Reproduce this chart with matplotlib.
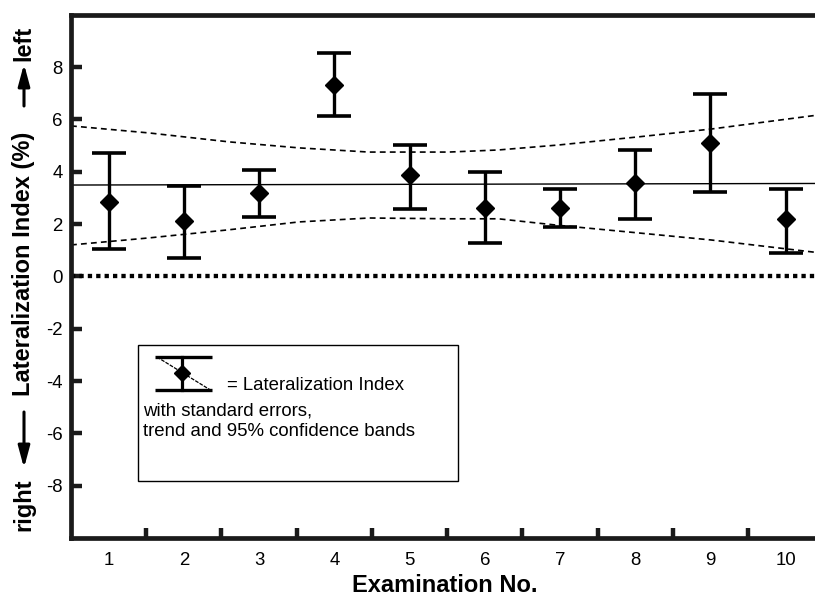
import matplotlib
matplotlib.use("Agg")
import matplotlib.pyplot as plt
from matplotlib.patches import Rectangle
import numpy as np

plt.rcParams['font.family'] = ['Liberation Sans', 'DejaVu Sans']

# ---- data ----
exams = [1, 2, 3, 4, 5, 6, 7, 8, 9, 10]
li_mean = [2.84, 2.12, 3.19, 7.31, 3.87, 2.60, 2.63, 3.57, 5.10, 2.18]
li_upper = [4.72, 3.46, 4.07, 8.53, 5.02, 4.00, 3.33, 4.83, 6.97, 3.33]
li_lower = [1.05, 0.71, 2.27, 6.13, 2.58, 1.27, 1.90, 2.20, 3.23, 0.91]

trend_x = [0.5, 10.39]
trend_y = [3.49, 3.55]

band_x = [0.5, 1.54, 2.6, 3.53, 4.46, 5.52, 6.18, 6.98, 8.04, 9.01, 10.39]
band_upper = [5.75, 5.48, 5.14, 4.91, 4.75, 4.75, 4.83, 5.02, 5.33, 5.63, 6.15]
band_lower = [1.20, 1.47, 1.78, 2.08, 2.23, 2.20, 2.20, 1.95, 1.66, 1.39, 0.92]

yticks = [-8, -6, -4, -2, 0, 2, 4, 6, 8]
xminor = [1.5, 2.5, 3.5, 4.5, 5.5, 6.5, 7.5, 8.5, 9.5]

W, H = 815, 595
fig = plt.figure(figsize=(W / 100, H / 100), dpi=100)
ax = fig.add_axes([71 / W, (H - 538) / H, 1 - 71 / W, (538 - 14.7) / H])

mean = np.array(li_mean)
yerr = [mean - np.array(li_lower), np.array(li_upper) - mean]

# zero reference (thick dotted)
ax.axhline(0, color='black', lw=3.1, linestyle=(0, (1, 0.95)),
           dash_capstyle='butt', zorder=2)
# trend
ax.plot(trend_x, trend_y, color='black', lw=1.0, zorder=2)
# confidence bands
ax.plot(band_x, band_upper, color='black', lw=1.2, linestyle=(0, (3.5, 2.5)), zorder=2)
ax.plot(band_x, band_lower, color='black', lw=1.2, linestyle=(0, (3.5, 2.5)), zorder=2)

ax.errorbar(exams, li_mean, yerr=yerr, fmt='D', color='black', ms=9,
            elinewidth=2.4, capsize=12.5, capthick=2.6, zorder=4)

ax.set_xlim(0.5, 10.39)
ax.set_ylim(-10, 10)

ax.spines['right'].set_visible(False)
for s in ['left', 'bottom', 'top']:
    ax.spines[s].set_linewidth(3.4)
    ax.spines[s].set_color('#1a1a1a')

ax.set_yticks(yticks)
ax.set_yticklabels([str(v) for v in yticks])
ax.set_xticks(exams)
ax.set_xticklabels([str(v) for v in exams])
ax.set_xticks(xminor, minor=True)
ax.tick_params(axis='y', which='major', direction='in', length=8, width=3.2,
               labelsize=13.4, pad=6, color='#1a1a1a')
ax.tick_params(axis='x', which='major', length=0, labelsize=13.4, pad=10)
ax.tick_params(axis='x', which='minor', direction='in', length=7, width=3.2,
               color='#1a1a1a')
ax.tick_params(top=False, right=False, which='both')

# ---- y label made of pieces with arrows ----
def fx(px):
    return px / W

def fy(py):
    return 1 - py / H

lab_kw = dict(rotation=90, ha='center', va='center', fontsize=17, fontweight='bold')
fig.text(fx(24), fy(43), 'left', **lab_kw)
fig.text(fx(24), fy(264), 'Lateralization Index (%)', **lab_kw)
fig.text(fx(24), fy(505), 'right', **lab_kw)

arrow_kw = dict(arrowstyle='-|>,head_length=1.3,head_width=0.35', color='black',
                lw=2.2, mutation_scale=10, shrinkA=0, shrinkB=0)
ax.annotate('', xy=(fx(24), fy(64)), xytext=(fx(24), fy(106)),
            xycoords='figure fraction', textcoords='figure fraction',
            arrowprops=arrow_kw, annotation_clip=False)
ax.annotate('', xy=(fx(24), fy(468)), xytext=(fx(24), fy(412)),
            xycoords='figure fraction', textcoords='figure fraction',
            arrowprops=arrow_kw, annotation_clip=False)

fig.text(fx(445), fy(585), 'Examination No.', ha='center', va='center',
         fontsize=17, fontweight='bold')

# ---- hand-made legend box ----
def ax_x(px):
    return (px - 71) / (W - 71)

def ax_y(py):
    return (538 - py) / (538 - 14.7)

T = ax.transAxes
box = Rectangle((ax_x(138), ax_y(481)), ax_x(458) - ax_x(138), ax_y(345) - ax_y(481),
                transform=T, fill=True, facecolor='white', edgecolor='black',
                lw=1.0, zorder=5)
ax.add_patch(box)
ax.plot([ax_x(157), ax_x(212)], [ax_y(357), ax_y(391)], transform=T, color='black',
        lw=0.9, linestyle=(0, (3, 1)), zorder=6)
ax.plot([ax_x(155), ax_x(212)], [ax_y(357), ax_y(357)], transform=T, color='black',
        lw=2.4, zorder=6, solid_capstyle='butt')
ax.plot([ax_x(155), ax_x(212)], [ax_y(390), ax_y(390)], transform=T, color='black',
        lw=2.4, zorder=6, solid_capstyle='butt')
ax.plot([ax_x(182), ax_x(182)], [ax_y(357), ax_y(390)], transform=T, color='black',
        lw=2.3, zorder=6)
ax.plot([ax_x(182)], [ax_y(373)], transform=T, marker='D', ms=8, color='black',
        zorder=7)
ax.text(ax_x(227), ax_y(385), '= Lateralization Index', transform=T, fontsize=13.4,
        ha='left', va='center', zorder=7)
ax.text(ax_x(143), ax_y(411), 'with standard errors,', transform=T, fontsize=13.4,
        ha='left', va='center', zorder=7)
ax.text(ax_x(143), ax_y(432), 'trend and 95% confidence bands', transform=T,
        fontsize=13.4, ha='left', va='center', zorder=7)

fig.savefig('out.png', dpi=100)
